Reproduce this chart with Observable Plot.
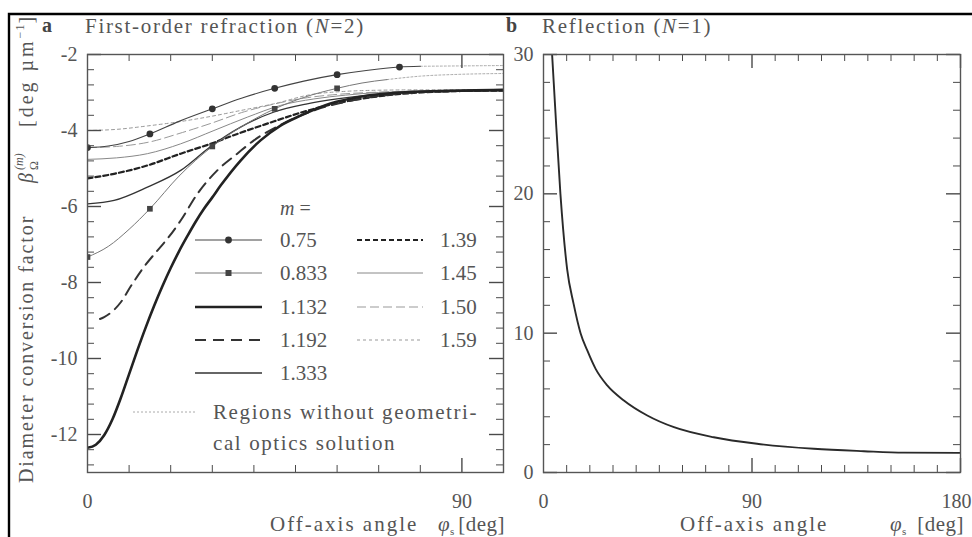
<!DOCTYPE html>
<html><head><meta charset="utf-8">
<script src="https://cdn.jsdelivr.net/npm/d3@7"></script>
<script src="https://cdn.jsdelivr.net/npm/@observablehq/plot@0.6"></script>
<style>
body{margin:0;background:#fff;}
#wrap{position:relative;width:972px;height:537px;overflow:hidden;font-family:"Liberation Serif",serif;color:#555;}
#wrap > svg{position:absolute;overflow:visible;}
</style></head><body><div id="wrap"></div>
<script>
// ---------- data: panel a (first-order refraction, N=2) ----------
const phi_075 = [0,5,10,15,22,30,37,45,52,60,67,75,80];
const beta_075 = [-4.45,-4.41,-4.29,-4.09,-3.76,-3.43,-3.15,-2.89,-2.70,-2.53,-2.42,-2.33,-2.31];
const phi_075_mark = [0,15,30,45,60,75];
const beta_075_mark = [-4.45,-4.09,-3.43,-2.89,-2.53,-2.33];
const phi_075_nosol = [80,90,100];
const beta_075_nosol = [-2.31,-2.30,-2.29];

const phi_0833 = [0,5,10,15,22,30,37,45,52,60,66,72];
const beta_0833 = [-7.33,-7.05,-6.6,-6.06,-5.2,-4.42,-3.9,-3.43,-3.13,-2.89,-2.75,-2.66];
const phi_0833_mark = [0,15,30,45,60];
const beta_0833_mark = [-7.33,-6.06,-4.42,-3.43,-2.89];
const phi_0833_nosol = [72,80,90,100];
const beta_0833_nosol = [-2.66,-2.57,-2.52,-2.50];

const phi_1132 = [0,2,4,6,8,10,12,14,16,18,20,22,24,26,28,30,32,36.8,41.6,46.4,51.2,58.4,65.6,75,85,100];
const beta_1132 = [-12.35,-12.27,-12.02,-11.60,-11.04,-10.41,-9.78,-9.18,-8.62,-8.10,-7.62,-7.18,-6.78,-6.40,-6.06,-5.76,-5.45,-4.79,-4.26,-3.87,-3.61,-3.29,-3.11,-3.0,-2.96,-2.93];

const phi_1192 = [3,4,8,10.4,13.5,16.8,19.2,22.4,26.4,31.2,36,40,47,55,65,75,90,100];
const beta_1192 = [-8.96,-8.91,-8.52,-8.1,-7.6,-7.16,-6.85,-6.37,-5.67,-5.05,-4.61,-4.26,-3.82,-3.45,-3.18,-3.03,-2.96,-2.94];

const phi_1333 = [0,6.4,14.4,22.4,29.6,36.8,44.7,52.8,60,70,80,90,100];
const beta_1333 = [-5.93,-5.84,-5.49,-5.05,-4.42,-3.91,-3.52,-3.30,-3.17,-3.05,-2.99,-2.96,-2.95];

const phi_139 = [0,6.4,14.4,22.4,29.6,36,43.2,50.4,59.2,70,80,90,100];
const beta_139 = [-5.26,-5.14,-4.92,-4.61,-4.35,-4.09,-3.82,-3.56,-3.30,-3.10,-3.0,-2.96,-2.95];

const phi_145 = [0,7,14.4,22.4,30.4,38.4,46.4,54.4,62,70,80,90,100];
const beta_145 = [-4.76,-4.72,-4.61,-4.35,-4.0,-3.65,-3.34,-3.17,-3.07,-3.0,-2.97,-2.95,-2.94];

const phi_150 = [0,7,15,22,30,37,45,52,60,70,80,90,100];
const beta_150 = [-4.45,-4.42,-4.30,-4.08,-3.80,-3.53,-3.30,-3.15,-3.05,-2.99,-2.96,-2.95,-2.94];

const phi_159 = [0,7,14.4,22,29.6,37,44.7,54,62,70,80,90,100];
const beta_159 = [-4.0,-3.97,-3.88,-3.77,-3.63,-3.47,-3.30,-3.05,-2.97,-2.94,-2.93,-2.93,-2.93];

// ---------- data: panel b (reflection, N=1) ----------
const phi_refl = [2.6,3.75,5,7.3,10.2,13,16,18.9,22.5,27.5,34.7,44.8,56.3,73.5,92.2,116.7,138.3,155.6,180];
const beta_refl = [33,29.9,26.3,20,14.6,12.1,10.0,8.76,7.44,6.25,5.17,4.09,3.25,2.53,2.06,1.70,1.53,1.43,1.41];

// ---------- tick labels ----------
const xTicksA = [0,90];
const yTicksA = [-2,-4,-6,-8,-10,-12];
const xTicksB = [0,90,180];
const yTicksB = [0,10,20,30];

const legendLeft = ["0.75","0.833","1.132","1.192","1.333"];
const legendRight = ["1.39","1.45","1.50","1.59"];

// ---------- styles ----------
const sty = {
  "0.75":  {stroke:"#444", w:1.1},
  "0.833": {stroke:"#777", w:1},
  "1.132": {stroke:"#222", w:2.6},
  "1.192": {stroke:"#333", w:2, dash:"11,7"},
  "1.333": {stroke:"#333", w:1.3},
  "1.39":  {stroke:"#222", w:2.2, dash:"5,3"},
  "1.45":  {stroke:"#888", w:1},
  "1.50":  {stroke:"#999", w:1, dash:"9,4"},
  "1.59":  {stroke:"#999", w:1, dash:"3,3"},
  "nosol": {stroke:"#aaa", w:1, dash:"2,2"},
  "refl":  {stroke:"#2a2a2a", w:1.9}
};
const rows = (p,b) => p.map((v,i)=>({p:v,b:b[i]}));
function curve(p,b,key){
  const s = sty[key];
  return Plot.line(rows(p,b),{x:"p",y:"b",stroke:s.stroke,strokeWidth:s.w,strokeDasharray:s.dash,curve:"monotone-x",clip:true});
}
function frameTicks(xs,xMaj,ys,yMaj,iw,ih){
  const tc = "#4a4a4a", mn = 7, mj = 14;
  const xm = xs.filter(v=>!xMaj.includes(v)), ym = ys.filter(v=>!yMaj.includes(v));
  return [
    Plot.tickX(xm,{x:d=>d,insetTop:ih-mn,stroke:tc}),
    Plot.tickX(xm,{x:d=>d,insetBottom:ih-mn,stroke:tc}),
    Plot.tickX(xMaj,{x:d=>d,insetTop:ih-mj,stroke:tc,strokeWidth:1.4}),
    Plot.tickX(xMaj,{x:d=>d,insetBottom:ih-mj,stroke:tc,strokeWidth:1.4}),
    Plot.tickY(ym,{y:d=>d,insetRight:iw-mn,stroke:tc}),
    Plot.tickY(ym,{y:d=>d,insetLeft:iw-mn,stroke:tc}),
    Plot.tickY(yMaj,{y:d=>d,insetRight:iw-mj,stroke:tc,strokeWidth:1.4}),
    Plot.tickY(yMaj,{y:d=>d,insetLeft:iw-mj,stroke:tc,strokeWidth:1.4})
  ];
}
const baseStyle = {fontFamily:"Liberation Serif, serif",fontSize:"20px",color:"#555",background:"transparent",overflow:"visible"};

const wrap = document.getElementById("wrap");

// ---------- panel a ----------
const aW = 520, H = 537, aML = 87, aMR = 17, MT = 54, MB = 65;
const aIW = aW-aML-aMR, IH = H-MT-MB;
const panelA = Plot.plot({
  width:aW, height:H, marginLeft:aML, marginRight:aMR, marginTop:MT, marginBottom:MB,
  x:{domain:[0,100]}, y:{domain:[-13,-2]},
  style:baseStyle,
  marks:[
    curve(phi_075_nosol,beta_075_nosol,"nosol"),
    curve(phi_0833_nosol,beta_0833_nosol,"nosol"),
    curve(phi_159,beta_159,"1.59"),
    curve(phi_150,beta_150,"1.50"),
    curve(phi_145,beta_145,"1.45"),
    curve(phi_139,beta_139,"1.39"),
    curve(phi_1333,beta_1333,"1.333"),
    curve(phi_1192,beta_1192,"1.192"),
    curve(phi_1132,beta_1132,"1.132"),
    curve(phi_0833,beta_0833,"0.833"),
    curve(phi_075,beta_075,"0.75"),
    Plot.dot(rows(phi_075_mark,beta_075_mark),{x:"p",y:"b",r:3.4,fill:"#333",stroke:"none",clip:true}),
    Plot.dot(rows(phi_0833_mark,beta_0833_mark),{x:"p",y:"b",r:3.2,symbol:"square",fill:"#444",stroke:"none",clip:true}),
    ...frameTicks(d3.range(0,101,10),[90],d3.range(0,28).map(k=>+(-2-0.4*k).toFixed(1)),[-2,-4,-6,-8,-10,-12],aIW,IH),
    Plot.frame({stroke:"#555",strokeWidth:1.4}),
    Plot.axisX({ticks:xTicksA,tickSize:0,tickPadding:21,tickFormat:d=>String(d),label:null}),
    Plot.axisY({ticks:yTicksA,tickSize:0,tickPadding:10,tickFormat:d=>String(d),label:null})
  ]
});
panelA.style.left = "0px"; panelA.style.top = "0px";
wrap.appendChild(panelA);

// ---------- panel b ----------
const bX = 520, bW = 452, bML = 23, bMR = 12;
const bIW = bW-bML-bMR;
const panelB = Plot.plot({
  width:bW, height:H, marginLeft:bML, marginRight:bMR, marginTop:MT, marginBottom:MB,
  x:{domain:[0,180]}, y:{domain:[0,30]},
  style:baseStyle,
  marks:[
    curve(phi_refl,beta_refl,"refl"),
    ...frameTicks(d3.range(0,181,10),[90,180],d3.range(0,31,2),[0,10,20,30],bIW,IH),
    Plot.frame({stroke:"#555",strokeWidth:1.4}),
    Plot.axisX({ticks:xTicksB,tickSize:0,tickPadding:21,tickFormat:d=>String(d),label:null}),
    Plot.axisY({ticks:yTicksB,tickSize:0,tickPadding:10,tickFormat:d=>String(d),label:null})
  ]
});
panelB.style.left = bX+"px"; panelB.style.top = "0px";
wrap.appendChild(panelB);
// keep "180" inside the picture
d3.select(panelB).selectAll("text").filter(function(){return this.textContent==="180";})
  .attr("text-anchor","end").attr("x", function(){return (+d3.select(this).attr("x")||0)+11;});

// ---------- overlay: border, titles, legend ----------
const ov = d3.select(wrap).append("svg").attr("width",972).attr("height",537)
  .style("left","0px").style("top","0px")
  .attr("font-family","Liberation Serif, serif").attr("fill","#555");
ov.append("path").attr("d","M9,537V14H972").attr("fill","none").attr("stroke","#000").attr("stroke-width",2.4);

function letter(x,l){
  ov.append("text").attr("x",x).attr("y",32).attr("font-size",20).attr("font-weight","bold").attr("fill","#444").text(l);
}
letter(42,"a"); letter(506,"b");
function richTitle(x,pre,n){
  const t = ov.append("text").attr("x",x).attr("y",33).attr("font-size",21).attr("letter-spacing",1.7);
  t.append("tspan").text(pre+"(");
  t.append("tspan").attr("font-style","italic").text("N");
  t.append("tspan").text("="+n+")");
}
richTitle(85,"First-order refraction ","2");
richTitle(542,"Reflection ","1");

// y title (rotated), pieces placed along the text direction
const yt = ov.append("g").attr("transform","translate(33,483) rotate(-90)").attr("font-size",20);
yt.append("text").attr("x",0).attr("letter-spacing",1.9).text("Diameter conversion factor");
yt.append("text").attr("x",300).attr("font-style","italic").text("β");
yt.append("text").attr("x",313).attr("y",-10).attr("font-size",12).attr("font-style","italic").text("(m)");
yt.append("text").attr("x",313).attr("y",5).attr("font-size",12).text("Ω");
const yt2 = yt.append("text").attr("x",356).attr("letter-spacing",3);
yt2.append("tspan").text("[deg µm");
yt2.append("tspan").attr("font-size",12).attr("dy",-9).attr("letter-spacing",1).text("−1");
yt2.append("tspan").attr("dy",9).text("]");

// x titles
function xTitle(xStart,xPhi,xEnd){
  ov.append("text").attr("x",xStart).attr("y",531).attr("font-size",21).attr("letter-spacing",2).text("Off-axis angle");
  ov.append("text").attr("x",xPhi).attr("y",531).attr("font-size",21).attr("font-style","italic").text("φ");
  ov.append("text").attr("x",xPhi+12).attr("y",535).attr("font-size",11).text("s");
  ov.append("text").attr("x",xEnd).attr("y",531).attr("font-size",21).attr("text-anchor","end").attr("letter-spacing",0.5).text("[deg]");
}
xTitle(270,438,505);
xTitle(680,890,964);

// legend
const lg = ov.append("g");
const mt = lg.append("text").attr("x",280).attr("y",215).attr("font-size",20);
mt.append("tspan").attr("font-style","italic").text("m");
mt.append("tspan").text(" =");
function legItem(x1,x2,tx,y,key){
  const s = sty[key];
  lg.append("line").attr("x1",x1).attr("x2",x2).attr("y1",y).attr("y2",y)
    .attr("stroke",s.stroke).attr("stroke-width",s.w).attr("stroke-dasharray",s.dash||null);
  if (key==="0.75") lg.append("circle").attr("cx",(x1+x2)/2).attr("cy",y).attr("r",3.4).attr("fill","#333");
  if (key==="0.833") lg.append("rect").attr("x",(x1+x2)/2-3).attr("y",y-3).attr("width",6).attr("height",6).attr("fill","#444");
  if (tx) lg.append("text").attr("x",tx).attr("y",y+7).attr("font-size",21).text(key);
}
const rowY = [240,273,307,340,373];
legendLeft.forEach((k,i)=>legItem(195,262,280,rowY[i],k));
legendRight.forEach((k,i)=>legItem(357,423,440,rowY[i],k));
legItem(133,195,null,412,"nosol");
lg.append("text").attr("x",213).attr("y",419).attr("font-size",21).attr("letter-spacing",1.6).text("Regions without geometri-");
lg.append("text").attr("x",213).attr("y",450).attr("font-size",21).attr("letter-spacing",1.6).text("cal optics solution");
</script></body></html>
